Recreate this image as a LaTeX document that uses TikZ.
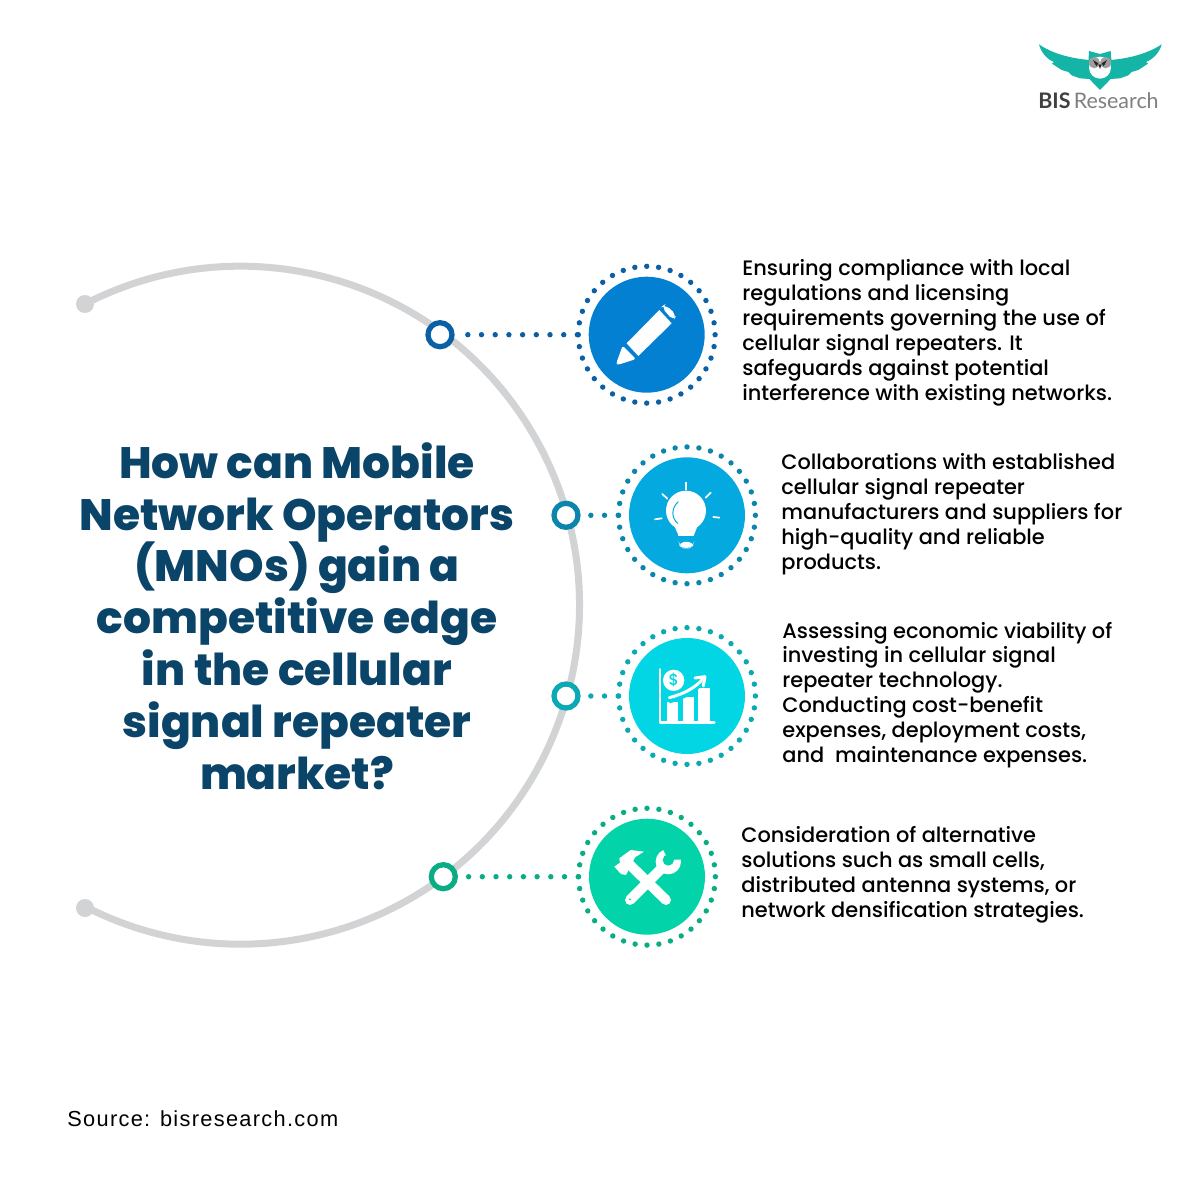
\documentclass[tikz,border=0pt]{standalone}
\usepackage{fontspec}
\setmainfont{Poppins}
\newfontfamily\bodyfont{Poppins Medium}
\newfontfamily\titlefont{Poppins}[UprightFont=*-ExtraBold]
\newfontfamily\srcfont{Liberation Sans}[LetterSpace=6]
\newfontfamily\logofont{Lato}
\definecolor{navy}{HTML}{0A4468}
\definecolor{arcgray}{HTML}{D2D3D5}
\definecolor{cA}{HTML}{0480D2}\definecolor{dA}{HTML}{0B5FA5}
\definecolor{cB}{HTML}{04A9E0}\definecolor{dB}{HTML}{0A85AC}
\definecolor{cC}{HTML}{02D6E4}\definecolor{dC}{HTML}{0AA9B3}
\definecolor{cD}{HTML}{03D3A9}\definecolor{dD}{HTML}{08AD84}
\definecolor{owl}{HTML}{14B5A6}
\tikzset{
  x=0.02cm,y=0.02cm,
  bigdisc/.style={circle,fill=#1,minimum size=2.32cm,inner sep=0pt},
  ringnode/.style={circle,draw=#1,line width=0.105cm,fill=white,minimum size=0.48cm,inner sep=0pt},
  dotlink/.style={draw=#1,line width=0.108cm,line cap=round,dash pattern=on 0pt off 0.274cm},
  endnode/.style={circle,fill=arcgray,minimum size=0.36cm,inner sep=0pt},
  bodytext/.style={anchor=west,align=left,inner sep=0pt,text=black,font=\bodyfont\fontsize{11.9pt}{14.17pt}\selectfont},
  iconline/.style={draw=white,line cap=round,line join=round},
  zoomA/.style={shift={(420,-255)},xscale=0.3333,yscale=-0.3333},
  zoomB/.style={shift={(540,-440)},xscale=0.3333,yscale=-0.3333},
  zoomC/.style={shift={(540,-620)},xscale=0.3333,yscale=-0.3333},
  zoomD/.style={shift={(420,-800)},xscale=0.3333,yscale=-0.3333},
  zoomL/.style={shift={(1020,-30)},xscale=0.3333,yscale=-0.3333},
}
\begin{document}
\begin{tikzpicture}
\useasboundingbox (0,0) rectangle (1200,-1200);
\fill[white] (0,0) rectangle (1200,-1200);
% arc
\node[endnode] (endA) at (85,-304) {};
\node[endnode] (endB) at (85,-908) {};
\draw[arcgray,line width=0.14cm] (endA.center) arc[start angle=117.3,end angle=-117.3,radius=339];
% discs and rings
\node[bigdisc=cA] (discA) at (646.7,-334.7) {};
\node[bigdisc=cB] (discB) at (687,-515.3) {};
\node[bigdisc=cC] (discC) at (687,-696) {};
\node[bigdisc=cD] (discD) at (647,-876.7) {};
\node[ringnode=dA] (ringA) at (440,-334.7) {};
\node[ringnode=dB] (ringB) at (566,-515.3) {};
\node[ringnode=dC] (ringC) at (566,-696) {};
\node[ringnode=dD] (ringD) at (443.3,-876.7) {};
\foreach \n/\c in {A/dA,B/dB,C/dC,D/dD}{
  \foreach \a in {0,10,...,350}
    \fill[\c] (disc\n.center) ++(\a:68.4) circle (2.7);
}
% connectors
\draw[dotlink=dA,dash phase=0.01cm] (ringA.east) -- (discA.west);
\draw[dotlink=dB,dash phase=0.07cm] (ringB.east) -- (discB.west);
\draw[dotlink=dC,dash phase=0.07cm] (ringC.east) -- (discC.west);
\draw[dotlink=dD,dash phase=0.06cm] (ringD.east) -- (discD.west);
% pencil
\begin{scope}[zoomA]
\fill[white,rounded corners=1pt] (590,328) -- (590,322) -- (608,272) -- (648,312) -- (596,329) -- cycle;
\fill[white] (620,265) -- (718,165) -- (755,205) -- (655,303) -- cycle;
\fill[white,rounded corners=3pt] (724,156) -- (735,148) -- (770,180) -- (760,197) -- cycle;
\end{scope}
% bulb
\begin{scope}[zoomB]
\fill[white] (438,212) circle (60);
\fill[white] (402,255) -- (474,255) -- (462,285) -- (415,285) -- cycle;
\fill[white] (415,284) rectangle (462,288);
\fill[white,rounded corners=3pt] (416,306) -- (462,306) -- (458,318) -- (448,325) -- (430,325) -- (420,318) -- cycle;
\draw[cB,line width=0.02cm,line cap=round] (415,185) .. controls (392,205) and (395,235) .. (413,250);
\draw[iconline,line width=0.035cm] (438,128) -- (438,148);
\draw[iconline,line width=0.035cm] (367,162) -- (382,176);
\draw[iconline,line width=0.035cm] (512,158) -- (497,173);
\draw[iconline,line width=0.035cm] (345,238) -- (365,235);
\draw[iconline,line width=0.035cm] (520,231) -- (538,233);
\end{scope}
% chart
\begin{scope}[zoomC]
\draw[iconline,line width=0.05cm] (360,148) -- (360,308) -- (523,308);
\fill[white] (380,246) rectangle (415,303);
\fill[white] (428,230) rectangle (463,303);
\fill[white] (474,205) rectangle (510,303);
\fill[white] (401,181) circle (32);
\node[text=cC,inner sep=0pt,font=\bodyfont\fontsize{9pt}{9pt}\selectfont] (dollar) at (401,181) {\$};
\draw[cC,line width=0.14cm] (386,240) .. controls (430,228) and (465,210) .. (490,175);
\draw[iconline,line width=0.06cm] (388,233) .. controls (430,222) and (465,205) .. (490,175);
\draw[iconline,line width=0.06cm] (465,174) -- (495,170) -- (490,198);
\end{scope}
% tools
\begin{scope}[zoomD]
\draw[white,line width=0.2cm,line cap=round] (630,300) -- (735,195);
\draw[white,line width=0.2cm,line cap=round] (738,300) -- (625,190);
\fill[white] (583,200) -- (600,188) -- (598,175) -- (632,150) -- (672,155) -- (645,172) -- (618,225) -- (603,222) -- cycle;
\fill[white] (745,185) circle (38);
\fill[cD] (745,180) circle (17);
\fill[cD] (745,180) -- (725,140) -- (770,140) -- (790,178) -- cycle;
\fill[white] (727,162) circle (0) ;
\fill[cD] (630,298) circle (3);
\end{scope}
% logo
\begin{scope}[zoomL]
\fill[owl] (57,43) .. controls (95,70) and (150,85) .. (208,90) -- (240,110) -- (272,90) .. controls (330,85) and (385,70) .. (425,43)
  .. controls (420,65) and (400,88) .. (378,96) -- (384,101) -- (355,120) -- (335,126) -- (325,136) -- (300,145) -- (272,147) -- (240,180) -- (208,147) -- (180,145) -- (155,136) -- (145,126) -- (125,120) -- (96,101) -- (102,96) .. controls (80,88) and (62,65) .. (57,43) -- cycle;
\fill[owl] (207,63) -- (240,72) -- (272,63) -- (275,100) -- (205,100) -- cycle;
\fill[white] (240,113) circle (33);
\fill[gray!75] (223,98) circle (17);
\fill[gray!75] (257,98) circle (17);
\fill[black!85] (219,90) -- (235,100) -- (229,109) -- cycle;
\fill[black!85] (261,90) -- (245,100) -- (251,109) -- cycle;
\fill[black!85] (235,103) -- (245,103) -- (240,117) -- cycle;
\end{scope}
\node[anchor=base west,inner sep=0pt,font=\logofont\fontsize{12.2pt}{12.2pt}\selectfont] (logotext) at (1038,-108) {\textcolor{black!75}{\bfseries BIS}\hspace{0.15em}\textcolor{black!50}{Research}};
% title
\node[align=center,text=navy,inner sep=0pt,font=\titlefont\fontsize{25pt}{29.47pt}\selectfont] (title) at (297,-616) {How can Mobile\\Network Operators\\(MNOs) gain a\\competitive edge\\in the cellular\\signal repeater\\market?};
% body
\node[bodytext] (textA) at (742,-333) {Ensuring compliance with local\\regulations and licensing\\requirements governing the use of\\cellular signal repeaters. It\\safeguards against potential\\interference with existing networks.};
\node[bodytext] (textB) at (781,-514) {Collaborations with established\\cellular signal repeater\\manufacturers and suppliers for\\high-quality and reliable\\products.};
\node[bodytext] (textC) at (782,-695) {Assessing economic viability of\\investing in cellular signal\\repeater technology.\\Conducting cost-benefit\\expenses, deployment costs,\\and\ \ maintenance expenses.};
\node[bodytext] (textD) at (741,-875) {Consideration of alternative\\solutions such as small cells,\\distributed antenna systems, or\\network densification strategies.};
\node[anchor=west,inner sep=0pt,font=\srcfont\fontsize{12.4pt}{12.4pt}\selectfont] (source) at (67,-1119) {Source: bisresearch.com};
\end{tikzpicture}
\end{document}
